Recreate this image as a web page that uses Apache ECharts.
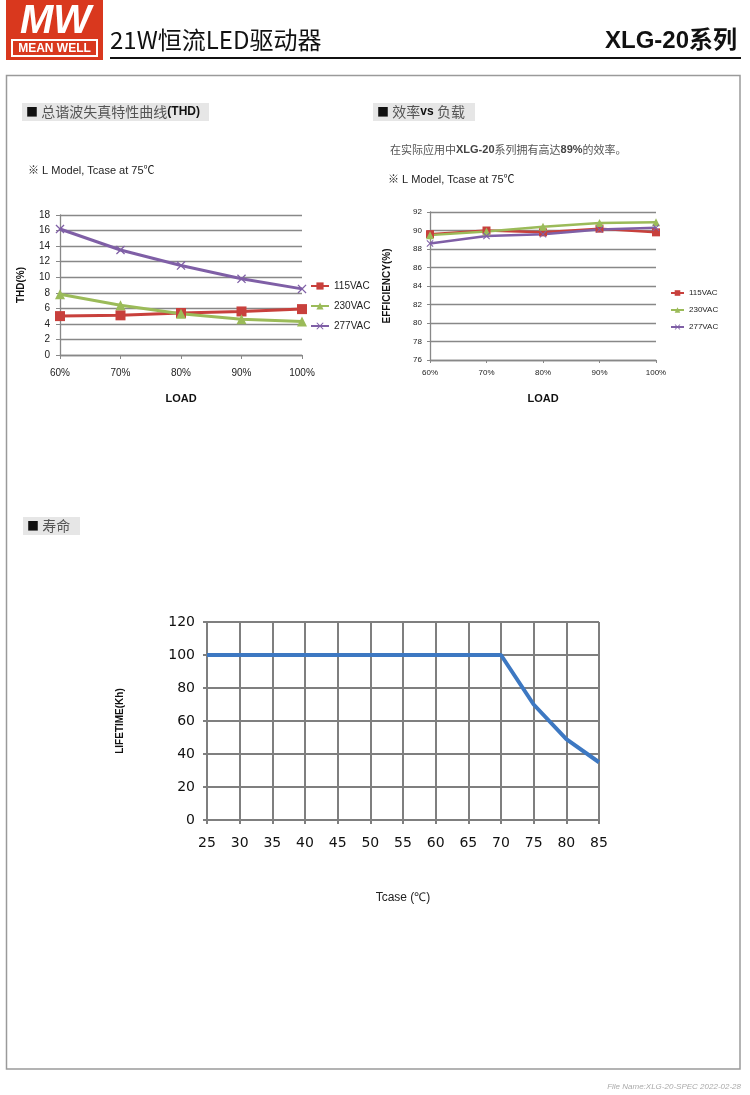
<!DOCTYPE html>
<html><head><meta charset="utf-8">
<script src="https://cdn.jsdelivr.net/npm/echarts@6/dist/echarts.min.js"></script>
<style>html,body{margin:0;padding:0;background:#fff}#c{width:750px;height:1095px}</style>
</head><body><div id="c"></div>
<script>
// ---- data ----
const loadCats = ['60%','70%','80%','90%','100%'];
const thdTicks = [0,2,4,6,8,10,12,14,16,18];
const thd115 = [5.0, 5.1, 5.4, 5.6, 5.9];
const thd230 = [7.8, 6.4, 5.3, 4.6, 4.3];
const thd277 = [16.2, 13.5, 11.5, 9.8, 8.5];
const eff115 = [89.6, 90.0, 89.8, 90.2, 89.8];
const eff230 = [89.5, 89.9, 90.4, 90.8, 90.9];
const eff277 = [88.6, 89.4, 89.6, 90.1, 90.3];
const tcase = [25,30,35,40,45,50,55,60,65,70,75,80,85];
const lifetime = [100,100,100,100,100,100,100,100,100,100,70,49,35];
const seriesNames = ['115VAC','230VAC','277VAC'];

const RED='#c8403c', GREEN='#9bbb59', PURPLE='#7f5fa6', BLUE='#3d78c2';
const XSYM='path://M0,1L1,0L5,4L9,0L10,1L6,5L10,9L9,10L5,6L1,10L0,9L4,5Z';
const F='"Liberation Sans", Arial, sans-serif';
const CJK='"Noto Sans CJK SC", sans-serif';

const chart = echarts.init(document.getElementById('c'), null, {renderer:'canvas'});

function lineSeries(name, data, color, sym, size, width, gi){
  return {type:'line', name, data, xAxisIndex:gi, yAxisIndex:gi, color,
    symbol:sym, symbolSize:size, showAllSymbol:true,
    lineStyle:{width, color}, itemStyle:{color}, z:3};
}

const option = {
  animation:false,
  backgroundColor:'#fff',
  textStyle:{fontFamily:F},
  grid:[
    {left:60, top:215, width:242, height:140},
    {left:430, top:212, width:226, height:148},
    {left:207, top:622, width:392, height:198}
  ],
  legend:[
    {orient:'vertical', left:310, top:281, itemWidth:18, itemHeight:9, itemGap:10,
     data:seriesNames, textStyle:{fontSize:10, color:'#222', fontFamily:F}, selectedMode:false, padding:0},
    {orient:'vertical', left:670, top:289, itemWidth:13, itemHeight:7, itemGap:9,
     data:seriesNames, textStyle:{fontSize:8, color:'#222', fontFamily:F}, selectedMode:false, padding:0}
  ],
  xAxis:[
    {gridIndex:0, type:'category', data:loadCats, boundaryGap:false,
     axisLine:{lineStyle:{color:'#888', width:1.3}}, axisTick:{show:true, length:4, lineStyle:{color:'#888'}},
     axisLabel:{fontSize:10, color:'#222', margin:13},
     name:'LOAD', nameLocation:'middle', nameGap:38, nameTextStyle:{fontSize:11, fontWeight:'bold', color:'#111'}},
    {gridIndex:1, type:'category', data:loadCats, boundaryGap:false,
     axisLine:{lineStyle:{color:'#888', width:1.3}}, axisTick:{show:true, length:3, lineStyle:{color:'#888'}},
     axisLabel:{fontSize:8, color:'#222', margin:9},
     name:'LOAD', nameLocation:'middle', nameGap:33, nameTextStyle:{fontSize:11, fontWeight:'bold', color:'#111'}},
    {gridIndex:2, type:'value', min:25, max:85, interval:5,
     axisLine:{lineStyle:{color:'#7f7f7f', width:2}}, axisTick:{show:true, length:4, lineStyle:{color:'#7f7f7f', width:2}},
     splitLine:{show:true, lineStyle:{color:'#7f7f7f', width:2}},
     axisLabel:{fontSize:14, color:'#111', margin:16, fontFamily:'"DejaVu Sans", sans-serif'},
     name:'Tcase (℃)', nameLocation:'middle', nameGap:72, nameTextStyle:{fontSize:12, color:'#222'}}
  ],
  yAxis:[
    {gridIndex:0, type:'value', min:0, max:18, interval:2,
     axisLine:{show:true, lineStyle:{color:'#888', width:1.3}}, axisTick:{show:true, length:4, lineStyle:{color:'#888'}},
     splitLine:{lineStyle:{color:'#888', width:1.3}},
     axisLabel:{fontSize:10, color:'#222', margin:10},
     name:'THD(%)', nameLocation:'middle', nameRotate:90, nameGap:34, nameTextStyle:{fontSize:10, fontWeight:'bold', color:'#111'}},
    {gridIndex:1, type:'value', min:76, max:92, interval:2,
     axisLine:{show:true, lineStyle:{color:'#888', width:1.3}}, axisTick:{show:true, length:3, lineStyle:{color:'#888'}},
     splitLine:{lineStyle:{color:'#888', width:1.3}},
     axisLabel:{fontSize:8, color:'#222', margin:8},
     name:'EFFICIENCY(%)', nameLocation:'middle', nameRotate:90, nameGap:38, nameTextStyle:{fontSize:10, fontWeight:'bold', color:'#111'}},
    {gridIndex:2, type:'value', min:0, max:120, interval:20,
     axisLine:{show:true, lineStyle:{color:'#7f7f7f', width:2}}, axisTick:{show:true, length:4, lineStyle:{color:'#7f7f7f', width:2}},
     splitLine:{lineStyle:{color:'#7f7f7f', width:2}},
     axisLabel:{fontSize:14, color:'#111', margin:12, fontFamily:'"DejaVu Sans", sans-serif'},
     name:'LIFETIME(Kh)', nameLocation:'middle', nameRotate:90, nameGap:82, nameTextStyle:{fontSize:10, fontWeight:'bold', color:'#111'}}
  ],
  series:[
    lineSeries('115VAC', thd115, RED, 'rect', 10, 3, 0),
    lineSeries('230VAC', thd230, GREEN, 'triangle', 10, 3, 0),
    lineSeries('277VAC', thd277, PURPLE, XSYM, 9, 3, 0),
    lineSeries('115VAC', eff115, RED, 'rect', 8, 2.5, 1),
    lineSeries('230VAC', eff230, GREEN, 'triangle', 8, 2.5, 1),
    lineSeries('277VAC', eff277, PURPLE, XSYM, 7, 2.5, 1),
    {type:'line', name:'Lifetime', xAxisIndex:2, yAxisIndex:2, data:tcase.map((t,i)=>[t,lifetime[i]]),
     symbol:'none', lineStyle:{width:4, color:BLUE}, color:BLUE, z:3}
  ],
  graphic:[
    // frame
    {type:'rect', shape:{x:6.5, y:75.5, width:733.5, height:993.5}, style:{fill:'none', stroke:'#9a9a9a', lineWidth:1.5}, z:-1},
    // logo
    {type:'rect', shape:{x:6, y:0, width:97, height:60}, style:{fill:'#d9381e'}},
    {type:'text', left:20, top:2, style:{text:'MW', fill:'#fff', font:'italic bold 40px "Liberation Sans", Arial, sans-serif'}},
    {type:'rect', shape:{x:12, y:40, width:85, height:16}, style:{fill:'none', stroke:'#fff', lineWidth:2}},
    {type:'text', x:54.5, y:48.5, style:{text:'MEAN WELL', fill:'#fff', font:'bold 12px "Liberation Sans", Arial, sans-serif', align:'center', verticalAlign:'middle'}},
    // title
    {type:'text', x:110, y:40, style:{text:'21W恒流LED驱动器', fill:'#111', font:'24px "Noto Sans CJK SC", sans-serif', verticalAlign:'middle'}},
    {type:'text', x:737, y:41, style:{text:'XLG-20系列', fill:'#111', align:'right', verticalAlign:'middle',
      rich:{}, font:'bold 24px "Liberation Sans", "Noto Sans CJK SC", sans-serif'}},
    {type:'rect', shape:{x:110, y:57, width:631, height:2}, style:{fill:'#111'}},
    // section headers
    {type:'rect', shape:{x:22, y:103, width:187, height:18}, style:{fill:'#e6e6e6'}},
    {type:'text', x:26, y:112, style:{verticalAlign:'middle',
      text:'{sq|■} {c|总谐波失真特性曲线}{b|(THD)}',
      rich:{sq:{fontSize:12, fill:'#111', fontFamily:CJK}, c:{fontSize:14, fill:'#555', fontFamily:CJK}, b:{fontSize:12, fontWeight:'bold', fill:'#111', fontFamily:F}}}},
    {type:'rect', shape:{x:373, y:103, width:102, height:18}, style:{fill:'#e6e6e6'}},
    {type:'text', x:377, y:112, style:{verticalAlign:'middle',
      text:'{sq|■} {c|效率}{b|vs} {c|负载}',
      rich:{sq:{fontSize:12, fill:'#111', fontFamily:CJK}, c:{fontSize:14, fill:'#555', fontFamily:CJK}, b:{fontSize:12, fontWeight:'bold', fill:'#111', fontFamily:F}}}},
    {type:'rect', shape:{x:23, y:517, width:57, height:18}, style:{fill:'#e6e6e6'}},
    {type:'text', x:27, y:526, style:{verticalAlign:'middle',
      text:'{sq|■} {c|寿命}',
      rich:{sq:{fontSize:12, fill:'#111', fontFamily:CJK}, c:{fontSize:14, fill:'#555', fontFamily:CJK}}}},
    // notes
    {type:'text', x:390, y:150, style:{verticalAlign:'middle',
      text:'{c|在实际应用中}{b|XLG-20}{c|系列拥有高达}{b|89%}{c|的效率。}',
      rich:{c:{fontSize:11, fill:'#555', fontFamily:CJK}, b:{fontSize:11, fontWeight:'bold', fill:'#444', fontFamily:F}}}},
    {type:'text', x:28, y:171, style:{verticalAlign:'middle', text:'※ L Model, Tcase at 75℃', fill:'#222', font:'11px "Liberation Sans", "Noto Sans CJK SC", sans-serif'}},
    {type:'text', x:388, y:180, style:{verticalAlign:'middle', text:'※ L Model, Tcase at 75℃', fill:'#222', font:'11px "Liberation Sans", "Noto Sans CJK SC", sans-serif'}},
    // footer
    {type:'text', x:741, y:1087, style:{align:'right', verticalAlign:'middle', text:'File Name:XLG-20-SPEC 2022-02-28', fill:'#aaa', font:'italic 8px "Liberation Sans", Arial, sans-serif'}}
  ]
};
chart.setOption(option);
</script>
</body></html>
